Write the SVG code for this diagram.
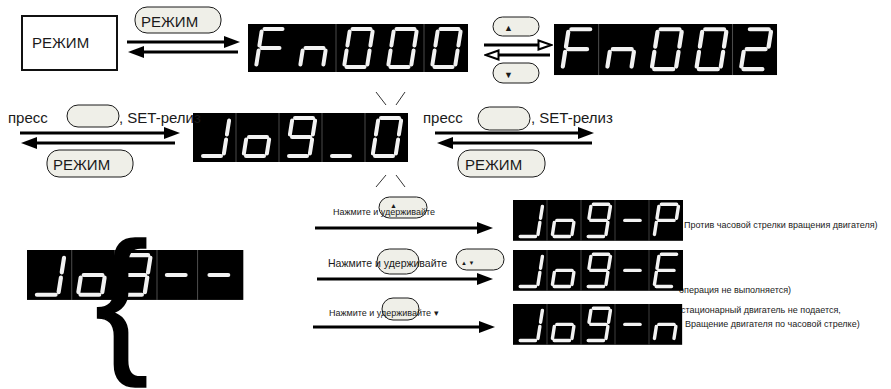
<svg xmlns="http://www.w3.org/2000/svg" xmlns:xlink="http://www.w3.org/1999/xlink" width="891" height="389" viewBox="0 0 891 389">
  <style>
    .seg { fill: none; stroke: #f2f2f2; stroke-width: 4; stroke-linecap: round; }
    .disp { fill: #000; }
    .sep { stroke: #4a4a4a; stroke-width: 1; fill: none; }
    .pill { fill: #efefe8; stroke: #1a1a1a; stroke-width: 1; }
    .line { stroke: #000; stroke-width: 3; fill: none; }
    .txt { font-family: "Liberation Sans", Arial, sans-serif; fill: #1a1a1a; }
    .lbl { font-size: 15px; }
    .small { font-size: 9px; }
    .flash { stroke: #333; stroke-width: 1; fill: none; }
    .brace { font-family: "Liberation Sans", Arial, sans-serif; font-size: 160px; fill: #000; stroke: #000; stroke-width: 1.6; }
  </style>
  <defs>
    <!-- solid arrowhead -->
    <marker id="ah" viewBox="0 0 16 12" refX="4" refY="6" markerWidth="16" markerHeight="12" markerUnits="userSpaceOnUse" orient="auto">
      <path d="M0,0 L16,6 L0,12 Z" fill="#000"/>
    </marker>
    <!-- hollow arrowhead -->
    <marker id="aho" viewBox="0 0 16 12" refX="4" refY="6" markerWidth="16" markerHeight="12" markerUnits="userSpaceOnUse" orient="auto">
      <path d="M1.5,1.5 L14.5,6 L1.5,10.5 Z" fill="#fff" stroke="#000" stroke-width="2"/>
    </marker>
    <!-- seven-segment glyphs in a 44 x 48 cell -->
    <path id="gF" class="seg" d="M16.5 5H34.5M13.6 7.5L11.4 21.5M10.6 26.5L8.4 40.5M13.5 24H31.5"/>
    <path id="gn" class="seg" d="M13.5 24H31.5M33.6 26.5L31.4 40.5M10.6 26.5L8.4 40.5"/>
    <path id="g0" class="seg" d="M16.5 5H34.5M36.6 7.5L34.4 21.5M33.6 26.5L31.4 40.5M10.5 43H28.5M10.6 26.5L8.4 40.5M13.6 7.5L11.4 21.5"/>
    <path id="g2" class="seg" d="M16.5 5H34.5M36.6 7.5L34.4 21.5M13.5 24H31.5M10.6 26.5L8.4 40.5M10.5 43H28.5"/>
    <path id="gJ" class="seg" d="M36.6 7.5L34.4 21.5M33.6 26.5L31.4 40.5M10.5 43H28.5"/>
    <path id="go" class="seg" d="M13.5 24H31.5M33.6 26.5L31.4 40.5M10.5 43H28.5M10.6 26.5L8.4 40.5"/>
    <path id="g9" class="seg" d="M16.5 5H34.5M36.6 7.5L34.4 21.5M33.6 26.5L31.4 40.5M10.5 43H28.5M13.6 7.5L11.4 21.5M13.5 24H31.5"/>
    <path id="g_" class="seg" d="M10.5 43H28.5"/>
    <path id="g3" class="seg" d="M16.5 5H34.5M36.6 7.5L34.4 21.5M33.6 26.5L31.4 40.5M10.5 43H28.5M13.5 24H31.5"/>
    <path id="gdash" class="seg" d="M13.5 24H31.5"/>
    <path id="gP" class="seg" d="M16.5 5H34.5M36.6 7.5L34.4 21.5M10.6 26.5L8.4 40.5M13.6 7.5L11.4 21.5M13.5 24H31.5"/>
    <path id="gE" class="seg" d="M16.5 5H34.5M10.5 43H28.5M10.6 26.5L8.4 40.5M13.6 7.5L11.4 21.5M13.5 24H31.5"/>
  </defs>

  <!-- mode key -->
  <g id="mode-key">
    <rect x="22" y="16" width="95" height="54" fill="#fff" stroke="#111" stroke-width="2"/>
    <text class="txt lbl" x="32" y="48" fill="#333">РЕЖИМ</text>
  </g>

  <!-- Fn000 -->
  <g id="fn000" transform="translate(248,24)">
    <rect class="disp" width="220" height="48"/>
    <path class="sep" d="M88 0V48M176 0V48"/>
    <use xlink:href="#gF" x="0"/>
    <use xlink:href="#gn" x="44"/>
    <use xlink:href="#g0" x="88"/>
    <use xlink:href="#g0" x="132"/>
    <use xlink:href="#g0" x="176"/>
  </g>

  <!-- Fn002 -->
  <g id="fn002" transform="translate(554,24) scale(1.05)">
    <rect class="disp" width="212.4" height="48.6"/>
    <path class="sep" d="M42.5 0V48.6M170 0V48.6"/>
    <use xlink:href="#gF" x="0"/>
    <use xlink:href="#gn" x="42.5"/>
    <use xlink:href="#g0" x="85"/>
    <use xlink:href="#g0" x="127.5"/>
    <use xlink:href="#g2" x="170"/>
  </g>

  <!-- Jog_0 -->
  <g id="jog0" transform="translate(193,113)">
    <rect class="disp" width="215" height="49"/>
    <path class="sep" d="M43 0V49M86 0V49M129 0V49M172 0V49"/>
    <use xlink:href="#gJ" x="-0.5"/>
    <use xlink:href="#go" x="42.5"/>
    <use xlink:href="#g9" x="85.5"/>
    <use xlink:href="#g_" x="128.5"/>
    <use xlink:href="#g0" x="171.5"/>
  </g>
  <path class="flash" d="M376,92 L386,105 M405,92 L396,105 M376,187 L386,175 M405,187 L396,175"/>

  <!-- Jog idle display with the brace -->
  <g id="jog-idle" transform="translate(27,250) scale(1.04)">
    <rect class="disp" width="208" height="48"/>
    <path class="sep" d="M43 0V48M84.5 0V48M125 0V48M164 0V48"/>
    <use xlink:href="#gJ" x="-1"/>
    <use xlink:href="#go" x="41"/>
    <use xlink:href="#g3" x="82"/>
    <use xlink:href="#gdash" x="121"/>
    <use xlink:href="#gdash" x="162"/>
  </g>
  <text class="brace" x="95" y="354">{</text>

  <!-- descriptions -->
  <text class="txt small" x="684" y="228">Против часовой стрелки вращения двигателя)</text>
  <text class="txt small" x="679" y="293">операция не выполняется)</text>
  <text class="txt small" x="678" y="313">(стационарный двигатель не подается,</text>
  <text class="txt small" x="685" y="327">Вращение двигателя по часовой стрелке)</text>

  <!-- Jog-P -->
  <g id="jog-p" transform="translate(513,200) scale(0.85)">
    <rect class="disp" width="200" height="48"/>
    <path class="sep" d="M40 0V48M80 0V48M120 0V48M160 0V48"/>
    <use xlink:href="#gJ" x="-2"/>
    <use xlink:href="#go" x="38"/>
    <use xlink:href="#g9" x="78"/>
    <use xlink:href="#gdash" x="118"/>
    <use xlink:href="#gP" x="158"/>
  </g>

  <!-- Jog-E -->
  <g id="jog-e" transform="translate(513,250) scale(0.85)">
    <rect class="disp" width="200" height="48"/>
    <path class="sep" d="M40 0V48M80 0V48M120 0V48M160 0V48"/>
    <use xlink:href="#gJ" x="-2"/>
    <use xlink:href="#go" x="38"/>
    <use xlink:href="#g9" x="78"/>
    <use xlink:href="#gdash" x="118"/>
    <use xlink:href="#gE" x="158"/>
  </g>

  <!-- Jog-n -->
  <g id="jog-n" transform="translate(513,304) scale(0.85)">
    <rect class="disp" width="199" height="48"/>
    <path class="sep" d="M40 0V48M80 0V48M120 0V48M160 0V48"/>
    <use xlink:href="#gJ" x="-2"/>
    <use xlink:href="#go" x="38"/>
    <use xlink:href="#g9" x="78"/>
    <use xlink:href="#gdash" x="118"/>
    <use xlink:href="#gn" x="158"/>
  </g>

  <!-- connectors with their key labels -->
  <g id="connectors">
    <!-- mode key to Fn000 and back -->
    <rect class="pill" x="135" y="7" width="86" height="26" rx="12"/>
    <text class="txt lbl" x="141" y="26.5">РЕЖИМ</text>
    <path class="line" d="M127,42 H228" marker-end="url(#ah)"/>
    <path class="line" d="M238,52 H140" marker-end="url(#ah)"/>

    <!-- Fn000 to Fn002 and back -->
    <rect class="pill" x="493" y="17" width="46" height="19" rx="9.5"/>
    <text class="txt" x="504" y="31" font-size="9">▲</text>
    <rect class="pill" x="493" y="63" width="46" height="20" rx="10"/>
    <text class="txt" x="504" y="78" font-size="9">▼</text>
    <path class="line" d="M484,45 H541" marker-end="url(#aho)"/>
    <path class="line" d="M550,55 H496" marker-end="url(#aho)"/>

    <!-- left of Jog_0 -->
    <text class="txt lbl" x="8" y="123">пресс</text>
    <rect class="pill" x="67" y="105" width="52" height="22" rx="11"/>
    <text class="txt lbl" x="119" y="123">, SET-релиз</text>
    <path class="line" d="M20,133 H168" marker-end="url(#ah)"/>
    <path class="line" d="M175,143 H33" marker-end="url(#ah)"/>
    <rect class="pill" x="47" y="150" width="86" height="27" rx="12"/>
    <text class="txt lbl" x="53" y="169.5">РЕЖИМ</text>

    <!-- right of Jog_0 -->
    <text class="txt lbl" x="423" y="123">пресс</text>
    <rect class="pill" x="478" y="107" width="52" height="23" rx="11.5"/>
    <text class="txt lbl" x="531" y="123">, SET-релиз</text>
    <path class="line" d="M435,133 H582" marker-end="url(#ah)"/>
    <path class="line" d="M592,143 H449" marker-end="url(#ah)"/>
    <rect class="pill" x="458" y="150" width="87" height="27" rx="12"/>
    <text class="txt lbl" x="465" y="169.5">РЕЖИМ</text>

    <!-- Jog branches -->
    <rect class="pill" x="379" y="197" width="48" height="21" rx="10.5"/>
    <text class="txt" x="390" y="208" font-size="7">▲</text>
    <text class="txt small" x="333" y="215">Нажмите и удерживайте</text>
    <path class="line" d="M315,228 H481" marker-end="url(#ah)"/>

    <rect class="pill" x="377" y="249" width="42" height="25" rx="12.5"/>
    <rect class="pill" x="456" y="249" width="48" height="21" rx="10.5"/>
    <text class="txt" x="328" y="267" font-size="10.5">Нажмите и удерживайте</text>
    <text class="txt" x="461" y="265" font-size="6">▲ ▼</text>
    <path class="line" d="M317,279 H481" marker-end="url(#ah)"/>

    <rect class="pill" x="382" y="298" width="37" height="22" rx="11"/>
    <text class="txt small" x="329" y="316">Нажмите и удерживайте ▾</text>
    <path class="line" d="M313,327 H483" marker-end="url(#ah)"/>
  </g>
</svg>
